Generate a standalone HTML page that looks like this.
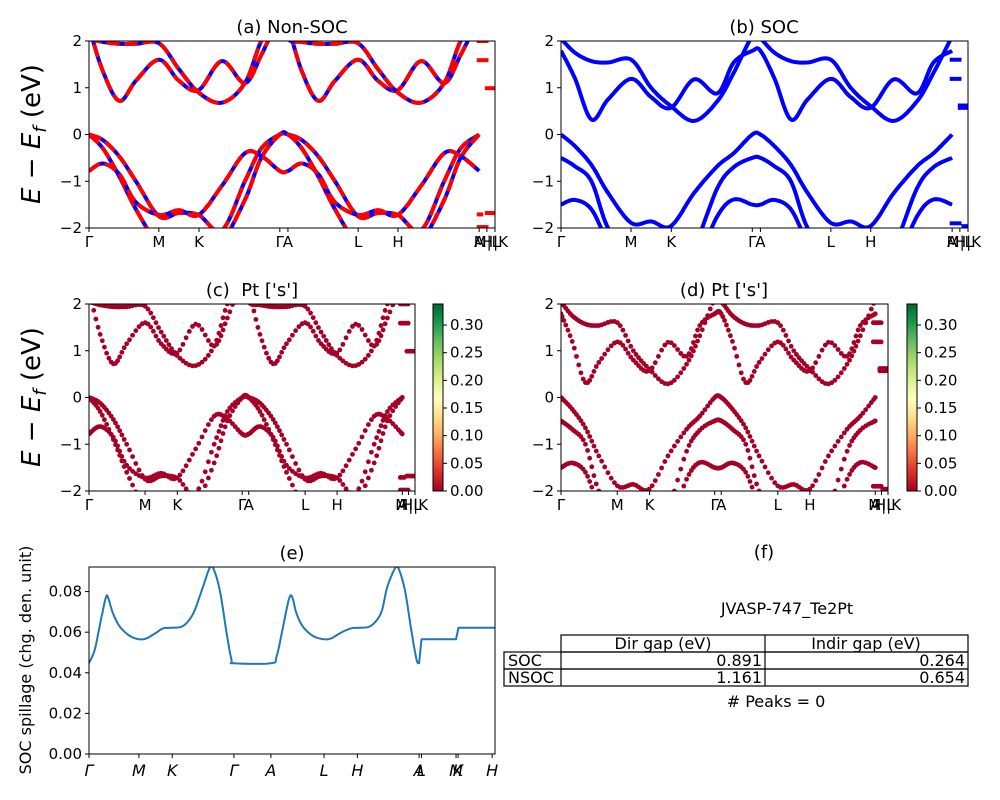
<!DOCTYPE html>
<html><head><meta charset="utf-8"><style>
html,body{margin:0;padding:0;background:#fff;}
svg{display:block;font-family:"DejaVu Sans","Liberation Sans",sans-serif;}
</style></head><body>
<svg id="fig" width="1000" height="800" viewBox="0 0 1000 800" xmlns="http://www.w3.org/2000/svg">
<defs>
<linearGradient id="rdylgn" x1="0" y1="1" x2="0" y2="0">
<stop offset="0" stop-color="#a50026"/><stop offset="0.1" stop-color="#d73027"/><stop offset="0.2" stop-color="#f46d43"/><stop offset="0.3" stop-color="#fdae61"/><stop offset="0.4" stop-color="#fee08b"/><stop offset="0.5" stop-color="#ffffbf"/><stop offset="0.6" stop-color="#d9ef8b"/><stop offset="0.7" stop-color="#a6d96a"/><stop offset="0.8" stop-color="#66bd63"/><stop offset="0.9" stop-color="#1a9850"/><stop offset="1" stop-color="#006837"/>
</linearGradient>
</defs>
<g id="root"></g>
<g font-size="16">
<text x="764" y="558" text-anchor="middle" font-size="18">(f)</text>
<text x="787" y="614" text-anchor="middle">JVASP-747_Te2Pt</text>
<g fill="none" stroke="#000" stroke-width="1.2">
<rect x="561" y="635" width="407" height="17"/><line x1="765" y1="635" x2="765" y2="686"/>
<rect x="504" y="652" width="464" height="17"/><rect x="504" y="669" width="464" height="17"/>
<line x1="561" y1="652" x2="561" y2="686"/>
</g>
<text x="663" y="649" text-anchor="middle">Dir gap (eV)</text>
<text x="866" y="649" text-anchor="middle">Indir gap (eV)</text>
<text x="508" y="666">SOC</text>
<text x="762" y="666" text-anchor="end">0.891</text>
<text x="965" y="666" text-anchor="end">0.264</text>
<text x="508" y="683">NSOC</text>
<text x="762" y="683" text-anchor="end">1.161</text>
<text x="965" y="683" text-anchor="end">0.654</text>
<text x="776" y="707" text-anchor="middle"># Peaks = 0</text>
</g>
</svg>
<script>
// ---- data ----
const tickFrac=[0,.172,.271,.470,.490,.663,.761,.961,.980,1];
const tickLabels=['Γ','M','K','Γ','A','L','H','A','M|L','H|K'];
const kGrid=[0,.073,.159,.246,.367,.471,.574,.696,.817,.903,1];
const nsocC1=[2.3,1.35,0.72,1.15,1.6,1.15,0.95,1.57,1.1,1.7,2.5];
const nsocC2=[2.05,1.98,1.94,1.94,1.95,1.4,0.9,0.68,1.1,2.0,2.6];
const nsocV1=[0,-0.12,-0.47,-1.0,-1.75,-1.68,-1.72,-2.05,-1.0,-0.3,0];
const nsocV2=[0,-0.3,-0.9,-1.6,-2.4,-2.8,-2.6,-2.3,-1.4,-0.5,0];
const nsocV3=[-0.78,-0.62,-0.85,-1.45,-1.72,-1.62,-1.72,-1.1,-0.4,-0.46,-0.78];
const socC1=[2.05,1.75,1.57,1.54,1.6,1.0,0.61,0.29,0.71,1.32,2.1];
const socC2=[1.79,1.2,0.32,0.75,1.19,0.8,0.57,1.18,0.88,1.54,1.79];
const socV1=[0,-0.25,-0.65,-1.25,-1.89,-1.86,-1.96,-1.25,-0.68,-0.4,0];
const socV2=[-0.5,-0.68,-1.0,-2.0,-2.6,-3,-3,-2.4,-1.15,-0.7,-0.5];
const socV3=[-1.5,-1.4,-1.6,-2.3,-3,-3,-3,-2.8,-1.75,-1.39,-1.5];
const nsocTailE=[2.0,1.59,0.99,-1.71,-1.68,-1.98];
const nsocTailS=[.955,.955,.975,.955,.975,.955];
const nsocTailF=[.984,.984,1,.971,1,.984];
const socTailE=[1.6,1.19,0.57,0.62,-1.9,-1.96];
const socTailS=[.955,.955,.975,.975,.955,.984];
const socTailF=[.984,.984,1,1,.984,1];
const bandTicks=[-2,-1,0,1,2];
const cbTicks=[0,.05,.1,.15,.2,.25,.3];
const cbTickLabels=['0.00','0.05','0.10','0.15','0.20','0.25','0.30'];
const cbMax=0.338;
const spK=[0,.014,.026,.041,.047,.059,.076,.101,.124,.142,.166,.183,.205,.232,.257,.281,.297,.306,.322,.339,.351,.357,.448,.462,.478,.493,.501,.511,.527,.552,.579,.597,.621,.646,.669,.694,.719,.735,.754,.762,.778,.795,.807,.813];
const spV=[.0447,.0512,.0627,.0767,.077,.0693,.0627,.0581,.0565,.057,.0598,.0619,.0622,.0631,.0693,.0825,.0915,.0915,.0808,.0595,.0463,.0447,.0447,.048,.0627,.0767,.077,.0693,.0627,.0581,.0565,.057,.0598,.0619,.0622,.0631,.0693,.0825,.0915,.0915,.0808,.0595,.0463,.0447];
const spStepK=[.819,.904,.910,.993];
const spStepV=[.0565,.0565,.0622,.0622];
const spLast=.0622;
const spTickFrac=[0,.123,.205,.357,.448,.579,.661,.813,.819,.904,.909,.993];
const spTickLabels=['Γ','M','K','Γ','A','L','H','A','L','M','K','H'];
const spYTicks=[0,.02,.04,.06,.08];
const spYLabels=['0.00','0.02','0.04','0.06','0.08'];
const spYMax=0.0921;

const NS='http://www.w3.org/2000/svg';
const root=document.getElementById('root');
function mk(tag,attrs,parent){const e=document.createElementNS(NS,tag);for(const k in attrs)e.setAttribute(k,attrs[k]);(parent||root).appendChild(e);return e;}

function catmull(pts,steps){const out=[];for(let i=0;i<pts.length-1;i++){const p0=pts[Math.max(0,i-1)],p1=pts[i],p2=pts[i+1],p3=pts[Math.min(pts.length-1,i+2)];
 for(let s=0;s<steps;s++){const t=s/steps,t2=t*t,t3=t2*t;
 out.push([0.5*((2*p1[0])+(-p0[0]+p2[0])*t+(2*p0[0]-5*p1[0]+4*p2[0]-p3[0])*t2+(-p0[0]+3*p1[0]-3*p2[0]+p3[0])*t3),
 0.5*((2*p1[1])+(-p0[1]+p2[1])*t+(2*p0[1]-5*p1[1]+4*p2[1]-p3[1])*t2+(-p0[1]+3*p1[1]-3*p2[1]+p3[1])*t3)]);}}
 out.push(pts[pts.length-1]);return out;}

function bandPoints(P,vals){const pts=[];
 kGrid.forEach((u,i)=>pts.push([P.x+u*tickFrac[3]*P.w,P.ey(vals[i])]));
 kGrid.forEach((u,i)=>pts.push([P.x+(tickFrac[4]+u*(tickFrac[7]-tickFrac[4]))*P.w,P.ey(vals[i])]));
 return pts;}

let clipId=0;
function panel(x,y,w,h,name,title,tx){
 const g=mk('g',{});
 const id='clip'+(clipId++);
 const cp=mk('clipPath',{id:id},g);mk('rect',{x:x,y:y,width:w,height:h},cp);
 const plot=mk('g',{'clip-path':'url(#'+id+')'},g);
 
 const t=mk('text',{x:tx,y:y-8,'text-anchor':'middle','font-size':18},g);t.textContent=title;
 
 return {g,plot,x,y,w,h,ey:e=>y+h-(e+2)/4*h};}

function frame(P){const r=mk('rect',{x:P.x,y:P.y,width:P.w,height:P.h,fill:'none',stroke:'#000','stroke-width':1},P.g);
 }

function bandAxes(P){
 const xa=mk('g',{'font-size':15},P.g);
 tickFrac.forEach((f,i)=>{const X=P.x+f*P.w;mk('line',{x1:X,x2:X,y1:P.y+P.h,y2:P.y+P.h+4,stroke:'#000'},xa);
  const t=mk('text',{x:X,y:P.y+P.h+19,'text-anchor':'middle'},xa);t.textContent=tickLabels[i];
  });
 const ya=mk('g',{'font-size':15},P.g);
 bandTicks.forEach(v=>{const Y=P.ey(v);mk('line',{x1:P.x-4,x2:P.x,y1:Y,y2:Y,stroke:'#000'},ya);
  const t=mk('text',{x:P.x-7,y:Y+5,'text-anchor':'end'},ya);t.textContent=v<0?'−'+(-v):String(v);
  });}

function yLabel(cx,cy){const t=mk('text',{transform:'translate('+cx+','+cy+') rotate(-90)','text-anchor':'middle','font-size':26});
 
 t.innerHTML='<tspan font-style="italic">E</tspan> − <tspan font-style="italic">E</tspan><tspan font-style="italic" font-size="18" dy="6">f</tspan><tspan dy="-6"> (eV)</tspan>';}

function poly(pts){return pts.map((p,i)=>(i?'L':'M')+p[0].toFixed(1)+' '+p[1].toFixed(1)).join('');}

// Panel a
const A=panel(89,41,406,187,'panel-a-non-soc','(a) Non-SOC',292);
[nsocC1,nsocC2,nsocV1,nsocV2,nsocV3].forEach(b=>{const d=poly(catmull(bandPoints(A,b),16));
 const l1=mk('path',{d:d,fill:'none',stroke:'#0000ff','stroke-width':4},A.plot);
 
 const l2=mk('path',{d:d,fill:'none',stroke:'#ff0000','stroke-width':4,'stroke-dasharray':'13 5'},A.plot);
 });
nsocTailE.forEach((e,i)=>{const l=mk('line',{x1:A.x+nsocTailS[i]*A.w,x2:A.x+nsocTailF[i]*A.w,y1:A.ey(e),y2:A.ey(e),stroke:'#ff0000','stroke-width':4},A.plot);
 });
frame(A);bandAxes(A);

// Panel b
const B=panel(561,41,407,187,'panel-b-soc','(b) SOC',764);
[socC1,socC2,socV1,socV2,socV3].forEach(b=>{const l=mk('path',{d:poly(catmull(bandPoints(B,b),16)),fill:'none',stroke:'#0000ff','stroke-width':4},B.plot);
 });
socTailE.forEach((e,i)=>{const l=mk('line',{x1:B.x+socTailS[i]*B.w,x2:B.x+socTailF[i]*B.w,y1:B.ey(e),y2:B.ey(e),stroke:'#0000ff','stroke-width':4},B.plot);
 });
frame(B);bandAxes(B);

function scatterPanel(P,bands,tE,tS,tF){
 bands.forEach(b=>{const pts=catmull(bandPoints(P,b),6);
  pts.forEach(p=>{const c=mk('circle',{cx:p[0],cy:p[1],r:2.4,fill:'#a50026'},P.plot);
   });});
 tE.forEach((e,i)=>{for(let f=tS[i];f<=tF[i]+1e-6;f+=0.006){const c=mk('circle',{cx:P.x+f*P.w,cy:P.ey(e),r:2.4,fill:'#a50026'},P.plot);
  }});
 frame(P);bandAxes(P);}
function colorbar(x,y,h,name){const g=mk('g',{'font-size':15});
 mk('rect',{x:x,y:y,width:10,height:h,fill:'url(#rdylgn)',stroke:'#000','stroke-width':1},g);
 cbTicks.forEach((v,i)=>{const Y=y+h-v/cbMax*h;mk('line',{x1:x+10,x2:x+14,y1:Y,y2:Y,stroke:'#000'},g);
  const t=mk('text',{x:x+17,y:Y+5},g);t.textContent=cbTickLabels[i];});}

const C=panel(89,304,326,187,'panel-c-pt-s-nsoc',"(c)\u00a0\u00a0Pt ['s']",252);
scatterPanel(C,[nsocC1,nsocC2,nsocV1,nsocV2,nsocV3],nsocTailE,nsocTailS,nsocTailF);
colorbar(433,304,187,'colorbar-c');
const D=panel(561,304,327,187,'panel-d-pt-s-soc',"(d) Pt ['s']",724);
scatterPanel(D,[socC1,socC2,socV1,socV2,socV3],socTailE,socTailS,socTailF);
colorbar(907,304,187,'colorbar-d');
yLabel(40,134);yLabel(40,397);

// Panel e
const E=panel(89,567,406,187,'panel-e-spillage','(e)',292);
const sx=k=>E.x+k*E.w, sy=v=>E.y+E.h-v/spYMax*E.h;
const spPts=catmull(spK.map((k,i)=>[sx(k),sy(spV[i])]),6);
spStepK.forEach((k,i)=>spPts.push([sx(k),sy(spStepV[i])]));
spPts.push([E.x+E.w,sy(spLast)]);
const sl=mk('path',{d:poly(spPts),fill:'none',stroke:'#1f77b4','stroke-width':2,'stroke-linejoin':'round'},E.plot);

frame(E);
const exa=mk('g',{'font-size':16,'font-style':'italic'},E.g);
spTickFrac.forEach((f,i)=>{const X=sx(f);mk('line',{x1:X,x2:X,y1:E.y+E.h,y2:E.y+E.h+4,stroke:'#000'},exa);
 const t=mk('text',{x:X,y:E.y+E.h+22,'text-anchor':'middle'},exa);t.textContent=spTickLabels[i];
 });
const eya=mk('g',{'font-size':15},E.g);
spYTicks.forEach((v,i)=>{const Y=sy(v);mk('line',{x1:E.x-4,x2:E.x,y1:Y,y2:Y,stroke:'#000'},eya);
 const t=mk('text',{x:E.x-7,y:Y+5,'text-anchor':'end'},eya);t.textContent=spYLabels[i];
 });
const st=mk('text',{transform:'translate(31,660) rotate(-90)','text-anchor':'middle','font-size':16});
st.textContent='SOC spillage (chg. den. unit)';

</script>
</body></html>
